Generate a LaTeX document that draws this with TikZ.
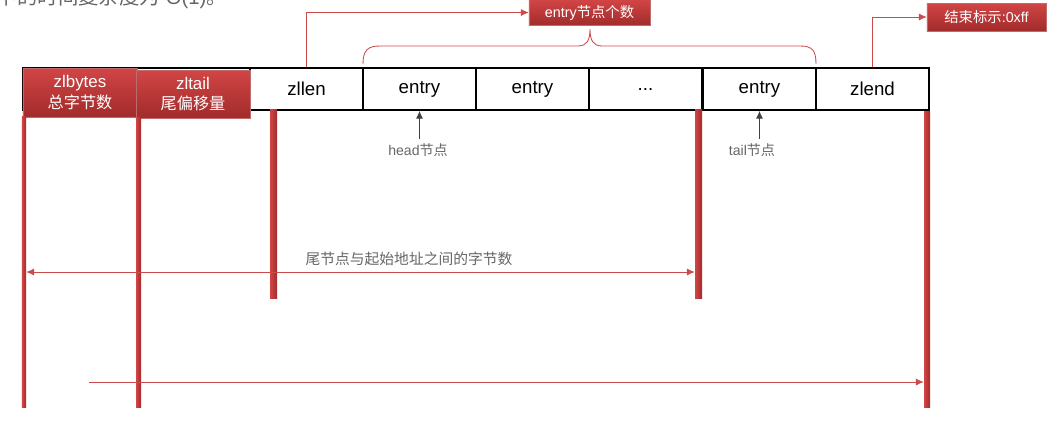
\documentclass[tikz,border=0pt]{standalone}
\usepackage{fontspec}
\setmainfont{Liberation Sans}
\newfontfamily\cjk{Noto Sans CJK SC}
\usetikzlibrary{arrows.meta,positioning,calc}
\definecolor{zred}{HTML}{CC4A4A}
\definecolor{zredtop}{HTML}{D24545}
\definecolor{zredbot}{HTML}{A22B2B}
\definecolor{ztext}{HTML}{666666}

\begin{document}
\begin{tikzpicture}[x=0.025cm,y=-0.025cm,>={Latex[length=5.5pt,width=5pt]},
        cell/.style={draw,line width=1.2pt,minimum width=2.825cm,minimum height=1.05cm,inner sep=0pt,font=\fontsize{13.3}{15}\selectfont},
        redbox/.style={top color=zredtop,bottom color=zredbot,draw=zredbot!70,text=white,inner sep=0pt,align=center},
        bar/.style={left color=zredtop,right color=zredbot,inner sep=0pt,minimum width=#1},
        note/.style={text=ztext,font=\fontsize{10}{12}\selectfont},
        link/.style={draw=zred,line width=0.6pt}]
                                \clip (0,0) rectangle (1064,424);
                                \node[anchor=base west,text=ztext,font=\fontsize{14.5}{16}\selectfont] (intro) at (-8,4) {{\cjk 中的时间复杂度为} O(1){\cjk 。}};

                                \draw[line width=1.2pt] (23,68) rectangle (250,110);
                                \node[cell] (zllen) at (306.5,89) {zllen};
                                \node[cell] (e1) at (419.5,89) {entry};
                                \node[cell] (e2) at (532.5,89) {entry};
                                \node[cell] (dots) at (645.5,89) {...};
                                \node[cell] (e4) at (759.5,89) {entry};
                                \node[cell] (zlend) at (872.5,89) {zlend};

                                \node[redbox,minimum width=2.85cm,minimum height=1.225cm,font=\fontsize{12}{14.5}\selectfont] (zlbytes) at (80,92.5) {zlbytes\\{\cjk\fontsize{11.5}{14.5}\selectfont 总字节数}};
                                \node[redbox,minimum width=2.85cm,minimum height=1.2cm,font=\fontsize{12}{14.5}\selectfont] (zltail) at (193,94) {zltail\\{\cjk\fontsize{11.5}{14.5}\selectfont 尾偏移量}};
                                \node[redbox,minimum width=3.025cm,minimum height=0.65cm,font=\fontsize{10.2}{12}\selectfont] (cnt) at (589.5,12.5) {entry{\cjk 节点个数}};
                                \node[redbox,minimum width=2.975cm,minimum height=0.7cm,font=\fontsize{10.2}{12}\selectfont] (endmark) at (986.5,17) {{\cjk 结束标示}:0xff};

                                \node[bar=0.1cm,minimum height=7.25cm] (bar1) at (24,262) {};
                                \node[bar=0.125cm,minimum height=7.225cm] (bar2) at (138.5,262.5) {};
                                \node[bar=0.175cm,minimum height=4.7cm] (bar3) at (273.5,204) {};
                                \node[bar=0.175cm,minimum height=4.7cm] (bar4) at (698.5,204) {};
                                \node[bar=0.15cm,minimum height=7.375cm] (bar5) at (927,259.5) {};

                                \draw[link] (363,64) .. controls (363,50) and (368,46) .. (380,46) -- (578,46)
                                        .. controls (587,46) and (590,40) .. (590,29)
                                        .. controls (590,40) and (593,46) .. (602,46) -- (800,46)
                                        .. controls (812,46) and (816,50) .. (816,64);
                                \draw[link,->] (zllen.north) |- (cnt.west);
                                \draw[link,->] (zlend.north) |- (endmark.west);

                                \node[note] (head) at (418,150) {head{\cjk 节点}};
                                \node[note] (tail) at (752,150) {tail{\cjk 节点}};
                                \draw[->,draw=black!75,line width=0.7pt] (head.north -| e1) -- (e1.south);
                                \draw[->,draw=black!75,line width=0.7pt] (tail.north -| e4) -- (e4.south);

                                \coordinate (span) at (0,272);
                                \node[note,font=\cjk\fontsize{10.5}{12}\selectfont] (spanlbl) at (409,259) {尾节点与起始地址之间的字节数};
                                \draw[link,<->] (bar1.east |- span) -- (bar4.west |- span);
                                \coordinate (start) at (89,382);
                                \draw[link,->] (start) -- (bar5.west |- start);
                            \end{tikzpicture}
\end{document}
